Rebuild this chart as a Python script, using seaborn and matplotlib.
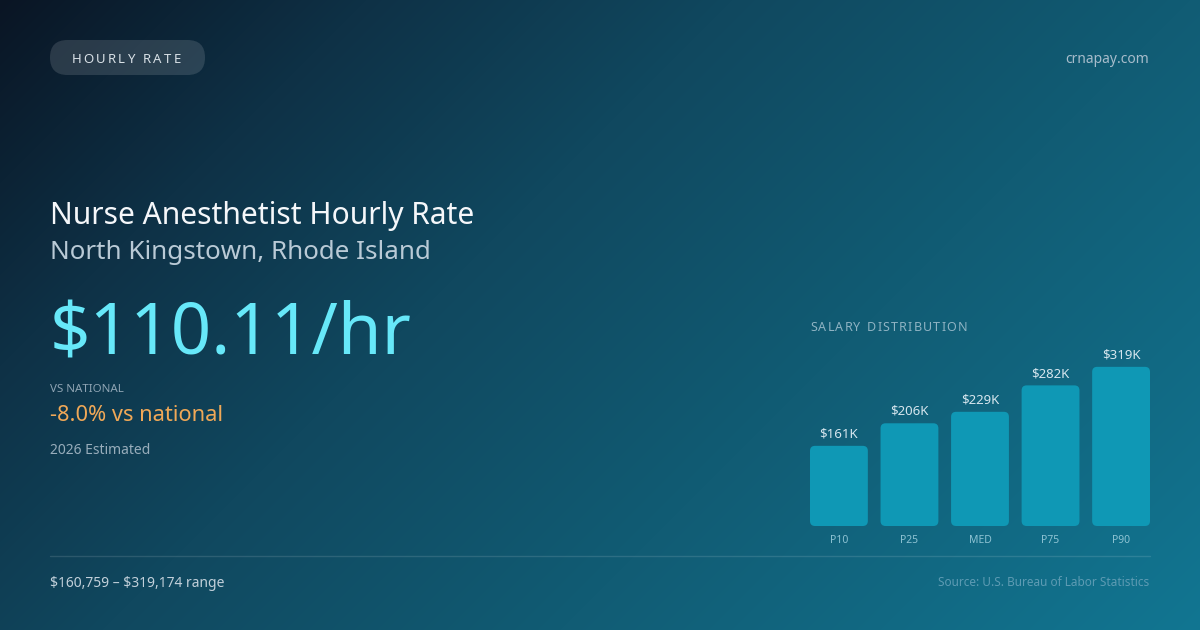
import numpy as np
import pandas as pd
import matplotlib
matplotlib.use("Agg")
import matplotlib.pyplot as plt
from matplotlib.patches import FancyBboxPatch
import seaborn as sns

# salary percentiles (thousands of $)
percentiles = ["P10", "P25", "MED", "P75", "P90"]
salary_k = [160.759, 206, 229, 282, 319.174]
salary_labels = ["$161K", "$206K", "$229K", "$282K", "$319K"]

badge = "HOURLY RATE"
site = "crnapay.com"
title = "Nurse Anesthetist Hourly Rate"
subtitle = "North Kingstown, Rhode Island"
hourly = "$110.11/hr"
vs_label = "VS NATIONAL"
vs_text = "-8.0% vs national"
est_text = "2026 Estimated"
range_text = "$160,759 – $319,174 range"
source_text = "Source: U.S. Bureau of Labor Statistics"
dist_title = "SALARY DISTRIBUTION"

sns.set_theme(style="white")
plt.rcParams["font.family"] = ["Noto Sans", "DejaVu Sans"]

W, H = 1200, 630
fig = plt.figure(figsize=(12, 6.3), dpi=100)
renderer = fig.canvas.get_renderer()


def spaced_text(ax, x, y, s, gap, ha="left", **kw):
    """draw text letter by letter with extra tracking (gap in px)"""
    widths = []
    for ch in s:
        t = ax.text(0, 0, ch if ch != " " else "i", **kw)
        w = t.get_window_extent(renderer).width
        if ch == " ":
            w *= 1.2
        widths.append(w)
        t.remove()
    total = sum(widths) + gap * (len(s) - 1)
    if ha == "center":
        x -= total / 2
    for ch, w in zip(s, widths):
        if ch != " ":
            ax.text(x, y, ch, va="baseline", **kw)
        x += w + gap


# background: diagonal gradient, dark navy -> teal
bg = fig.add_axes([0, 0, 1, 1])
yy, xx = np.mgrid[0:H, 0:W]
t = (xx + yy) / (W + H)
stops = [0.0, 0.2, 0.4, 0.65, 1.0]
cols = np.array([
    [0x0a, 0x15, 0x24],
    [0x0e, 0x31, 0x46],
    [0x10, 0x48, 0x5f],
    [0x11, 0x5c, 0x74],
    [0x12, 0x76, 0x92],
]) / 255.0
img = np.dstack([np.interp(t, stops, cols[:, k]) for k in range(3)])
bg.imshow(img, extent=[0, W, H, 0], aspect="auto", interpolation="bilinear")
bg.set_xlim(0, W)
bg.set_ylim(H, 0)
bg.axis("off")

# badge pill
pill = FancyBboxPatch((50, 40), 155, 35, boxstyle="round,pad=0,rounding_size=17.5",
                      fc="white", alpha=0.13, ec="none")
bg.add_patch(pill)
spaced_text(bg, 126, 63, badge, 2.2, ha="center", color="#d8e0e6", fontsize=9.5)
bg.text(1149, 63, site, color="#a7bccb", fontsize=10, ha="right", va="baseline")

# headline block
bg.text(50, 224, title, color="#f5f7fa", fontsize=21.6, va="baseline")
bg.text(50, 259, subtitle, color="#b9cad6", fontsize=18.7, va="baseline")
bg.text(50, 354, hourly, color="#67e8f9", fontsize=51, va="baseline")
bg.text(50, 392, vs_label, color="#8ea4b3", fontsize=8.3, va="baseline")
bg.text(50, 421, vs_text, color="#f0a857", fontsize=15.7, va="baseline")
bg.text(50, 454, est_text, color="#98adbb", fontsize=10, va="baseline")

# footer
bg.plot([50, 1150], [556, 556], color="white", alpha=0.12, lw=1)
bg.text(50, 587, range_text.replace("$", r"\$"), color="#c2d0da", fontsize=10,
        va="baseline")
bg.text(1149, 586, source_text, color="#5d9bb3", fontsize=8.5, ha="right",
        va="baseline")

spaced_text(bg, 810, 331, dist_title, 1.2, color="#8fb3c3", fontsize=9)

# bar chart
ax_l, ax_b, ax_w, ax_h = 810, 526, 340, 186
ax = fig.add_axes([ax_l / W, 1 - ax_b / H, ax_w / W, ax_h / H])
ax.set_facecolor("none")
df = pd.DataFrame({"pct": percentiles, "salary": salary_k})
bar_color = "#0f98b5"
sns.barplot(data=df, x="pct", y="salary", color=bar_color, saturation=1,
            width=0.82, ax=ax)
ax.set_xlim(-0.41, len(percentiles) - 1 + 0.41)
ax.set_ylim(0, 373)
for s in ax.spines.values():
    s.set_visible(False)
ax.set_yticks([])
ax.set_xlabel("")
ax.set_ylabel("")
ax.tick_params(axis="x", length=0, pad=6.5, labelsize=7.5, labelcolor="#8ec3d3")

# rounded corners on the bars
x_per_px = (ax.get_xlim()[1] - ax.get_xlim()[0]) / ax_w
y_per_px = (ax.get_ylim()[1] - ax.get_ylim()[0]) / ax_h
for p in list(ax.patches):
    x, y = p.get_x(), p.get_y()
    w, h = p.get_width(), p.get_height()
    rb = FancyBboxPatch((x, y), w, h,
                        boxstyle=f"round,pad=0,rounding_size={5 * x_per_px}",
                        mutation_aspect=y_per_px / x_per_px,
                        fc=bar_color, ec="none")
    ax.add_patch(rb)
    p.set_visible(False)

for i, (v, lab) in enumerate(zip(salary_k, salary_labels)):
    ax.annotate(lab, (i, v), xytext=(0, 6), textcoords="offset points",
                ha="center", va="baseline", color="#d6e6ee", fontsize=9.5)

fig.savefig("out.png", dpi=100)
